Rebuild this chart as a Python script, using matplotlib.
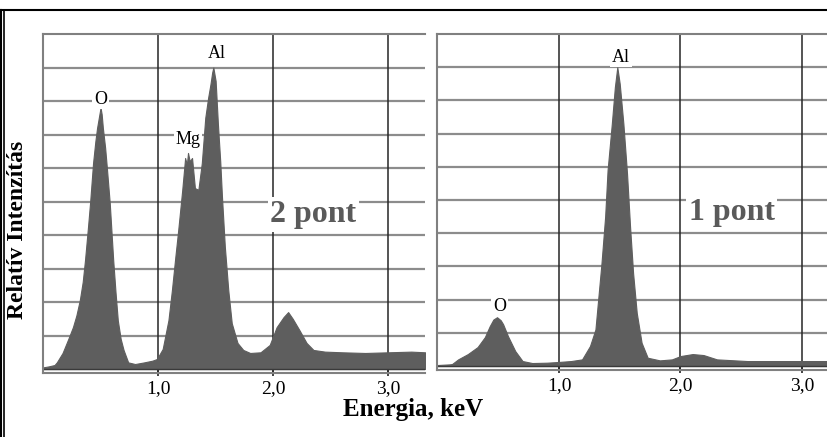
import matplotlib
matplotlib.use("Agg")
import matplotlib.pyplot as plt
from matplotlib.lines import Line2D

# ─── Data ────────────────────────────────────────────────────────────────────
# left panel ("2 pont")
energy_2 = [0.00, 0.05, 0.10, 0.12, 0.17, 0.22, 0.26, 0.29, 0.32, 0.345,
            0.365, 0.39, 0.41, 0.435, 0.455, 0.47, 0.485, 0.50, 0.51, 0.52,
            0.54, 0.555, 0.58, 0.595, 0.61, 0.63, 0.65, 0.675, 0.70, 0.74,
            0.80, 0.88, 0.95, 0.99, 1.04, 1.09, 1.12, 1.15, 1.175, 1.21,
            1.235, 1.25, 1.26, 1.275, 1.295, 1.32, 1.35, 1.38, 1.41, 1.435,
            1.455, 1.47, 1.48, 1.50, 1.52, 1.54, 1.555, 1.58, 1.61, 1.64,
            1.69, 1.74, 1.80, 1.89, 1.97, 2.03, 2.09, 2.13, 2.17, 2.23,
            2.29, 2.35, 2.45, 2.60, 2.80, 3.00, 3.20, 3.32]
counts_2 = [0.05, 0.08, 0.12, 0.20, 0.48, 0.90, 1.25, 1.60, 2.06, 2.60,
            3.25, 4.20, 5.00, 6.15, 6.80, 7.20, 7.50, 7.80, 7.60, 7.20,
            6.60, 6.00, 4.95, 4.10, 3.25, 2.30, 1.45, 0.90, 0.57, 0.20,
            0.15, 0.20, 0.25, 0.30, 0.60, 1.46, 2.35, 3.35, 4.15, 5.35,
            6.30, 6.10, 6.45, 6.20, 6.30, 5.40, 5.35, 6.15, 7.50, 8.10,
            8.50, 8.85, 9.00, 8.60, 7.30, 6.20, 5.15, 3.65, 2.35, 1.37,
            0.78, 0.57, 0.48, 0.50, 0.72, 1.25, 1.55, 1.70, 1.50, 1.15,
            0.78, 0.57, 0.52, 0.50, 0.48, 0.50, 0.52, 0.50]

# right panel ("1 pont")
energy_1 = [0.00, 0.10, 0.12, 0.17, 0.25, 0.33, 0.39, 0.43, 0.46, 0.49,
            0.52, 0.54, 0.58, 0.64, 0.70, 0.78, 0.90, 0.99, 1.10, 1.19,
            1.255, 1.30, 1.32, 1.35, 1.38, 1.40, 1.435, 1.46, 1.48, 1.50,
            1.53, 1.56, 1.585, 1.61, 1.64, 1.68, 1.73, 1.83, 1.93, 2.00,
            2.10, 2.19, 2.30, 2.55, 2.96, 3.21]
counts_1 = [0.03, 0.05, 0.06, 0.20, 0.36, 0.57, 0.87, 1.20, 1.40, 1.47,
            1.38, 1.26, 0.90, 0.45, 0.15, 0.09, 0.10, 0.12, 0.15, 0.20,
            0.60, 1.10, 1.90, 3.10, 4.50, 5.90, 7.30, 8.40, 9.00, 8.50,
            7.30, 5.80, 4.20, 2.80, 1.60, 0.70, 0.25, 0.17, 0.20, 0.30,
            0.36, 0.33, 0.20, 0.15, 0.15, 0.15]

# peak labels: (text, energy, height)
peaks_2 = [("O", 0.50, 8.05), ("Mg", 1.26, 6.85), ("Al", 1.51, 9.43)]
peaks_1 = [("Al", 1.51, 9.30), ("O", 0.51, 1.80)]

x_ticks = [1.0, 2.0, 3.0]
x_tick_labels = ["1,0", "2,0", "3,0"]

# ─── Style ───────────────────────────────────────────────────────────────────
plt.rcParams["font.family"] = ["Liberation Serif", "DejaVu Serif"]
FILL = "#5e5e5e"
HGRID = "#8c8c8c"
VGRID = "#262626"
SPINE = "#808080"

fig = plt.figure(figsize=(8.27, 4.37), dpi=100)

def draw_panel(rect, xmax, ybot, energy, counts, peaks, tag, tag_x):
    ax = fig.add_axes(rect)
    ax.set_xlim(0, xmax)
    ax.set_ylim(ybot, 10)
    ax.set_axisbelow(True)

    for yv in range(1, 10):
        ax.axhline(yv, color=HGRID, lw=1.6, zorder=0)
    for xv in x_ticks:
        ax.axvline(xv, color=VGRID, lw=1.1, zorder=0.5)

    ax.fill_between(energy, 0, counts, color=FILL, lw=0.8,
                    edgecolor=FILL, zorder=2)
    ax.axhline(0, color="#3a3a3a", lw=1.0, zorder=2.1)

    box = dict(facecolor="white", edgecolor="none", pad=1.2)
    for name, ex, ey in peaks:
        ax.text(ex, ey, name, ha="center", va="center", fontsize=13,
                color="black", bbox=box, zorder=3)
    ax.text(tag_x, 4.62, tag, ha="center", va="center", fontsize=23,
            fontweight="bold", color="#5a5a5a",
            bbox=dict(facecolor="white", edgecolor="none", pad=2), zorder=3)

    ax.set_xticks(x_ticks)
    ax.set_xticklabels(x_tick_labels, fontsize=14)
    ax.set_yticks([])
    ax.tick_params(axis="x", direction="inout", length=4, width=1.2,
                   color="#222222", pad=3)
    for side in ["left", "top", "bottom"]:
        ax.spines[side].set_color(SPINE)
        ax.spines[side].set_linewidth(1.5)
    ax.spines["right"].set_visible(False)
    return ax

ax_l = draw_panel([0.052, 0.1455, 0.462, 0.7767], 3.32, -0.13,
                  energy_2, counts_2, peaks_2, "2 pont", 2.35)
ax_r = draw_panel([0.529, 0.1533, 0.471, 0.7689], 3.206, -0.12,
                  energy_1, counts_1, peaks_1, "1 pont", 2.42)

fig.text(0.4995, 0.062, "Energia, keV", ha="center", va="center",
         fontsize=18, fontweight="bold")
fig.text(0.0206, 0.474, "Relatív Intenzítás", ha="center", va="center",
         rotation=90, fontsize=17, fontweight="bold")

# outer frame of the original figure
top = 1 - 10 / 437
fig.add_artist(Line2D([0, 1], [top, top], color="black", lw=1.5))
fig.add_artist(Line2D([0.6 / 827, 0.6 / 827], [0, top], color="black", lw=1.5))
fig.add_artist(Line2D([4 / 827, 4 / 827], [0, top], color="black", lw=1.2))

fig.savefig("out.png", dpi=100)
